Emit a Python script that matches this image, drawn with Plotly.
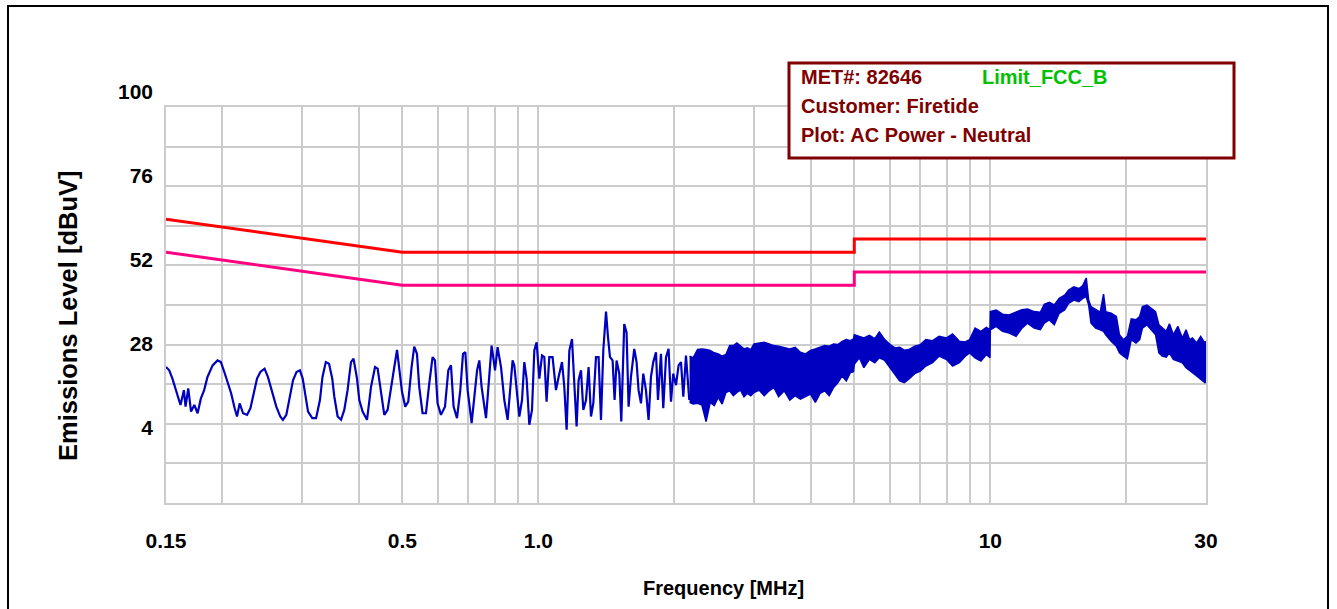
import math
import plotly.graph_objects as go

# ---------------- data ----------------
# measured emission trace, oscillating part (0.15 - 2.16 MHz)
line_freq_mhz = [
    0.1500, 0.1525, 0.1550, 0.1578, 0.1589, 0.1615, 0.1643, 0.1657, 0.1680, 0.1704,
    0.1733, 0.1762, 0.1792, 0.1822, 0.1853, 0.1902, 0.1950, 0.1984, 0.2019, 0.2055,
    0.2091, 0.2128, 0.2154, 0.2183, 0.2221, 0.2267, 0.2306, 0.2345, 0.2385, 0.2426,
    0.2478, 0.2521, 0.2565, 0.2631, 0.2685, 0.2721, 0.2769, 0.2817, 0.2865, 0.2916,
    0.2967, 0.3010, 0.3058, 0.3093, 0.3160, 0.3222, 0.3286, 0.3329, 0.3386, 0.3442,
    0.3499, 0.3536, 0.3596, 0.3659, 0.3720, 0.3783, 0.3849, 0.3900, 0.3969, 0.4016,
    0.4084, 0.4177, 0.4263, 0.4351, 0.4409, 0.4486, 0.4561, 0.4639, 0.4720, 0.4800,
    0.4867, 0.4924, 0.4992, 0.5076, 0.5154, 0.5241, 0.5313, 0.5387, 0.5450, 0.5543,
    0.5640, 0.5735, 0.5833, 0.5904, 0.5983, 0.6088, 0.6214, 0.6320, 0.6406, 0.6492,
    0.6606, 0.6718, 0.6811, 0.6892, 0.6974, 0.7117, 0.7216, 0.7317, 0.7401, 0.7488,
    0.7658, 0.7788, 0.7880, 0.8018, 0.8124, 0.8267, 0.8407, 0.8550, 0.8669, 0.8769,
    0.8846, 0.8951, 0.9074, 0.9200, 0.9308, 0.9418, 0.9549, 0.9680, 0.9795, 0.9911,
    1.0048, 1.0188, 1.0307, 1.0426, 1.0571, 1.0750, 1.0938, 1.1085, 1.1279, 1.1412,
    1.1547, 1.1708, 1.1868, 1.2008, 1.2150, 1.2274, 1.2425, 1.2572, 1.2746, 1.2915,
    1.3074, 1.3229, 1.3410, 1.3590, 1.3757, 1.3920, 1.4114, 1.4258, 1.4403, 1.4595,
    1.4744, 1.4894, 1.5100, 1.5254, 1.5487, 1.5671, 1.5834, 1.6027, 1.6299, 1.6492,
    1.6660, 1.6865, 1.7064, 1.7298, 1.7530, 1.7745, 1.7955, 1.8205, 1.8390, 1.8673,
    1.8894, 1.9157, 1.9411, 1.9653, 1.9881, 2.0157, 2.0428, 2.0679, 2.0923, 2.1211,
    2.1570,
]
line_level_dbuv = [
    21.2, 20.2, 17.7, 14.2, 12.2, 9.7, 14.2, 9.2, 14.7, 7.7,
    9.7, 7.2, 11.7, 14.2, 18.2, 21.7, 23.2, 22.7, 19.7, 16.7,
    13.2, 8.7, 6.2, 10.2, 7.2, 6.7, 8.7, 13.2, 17.7, 19.7,
    20.7, 18.2, 14.2, 9.2, 6.2, 5.2, 6.7, 12.2, 17.2, 19.7,
    20.2, 17.7, 11.7, 7.7, 5.7, 5.7, 11.2, 18.2, 22.7, 22.2,
    17.7, 12.2, 6.2, 5.2, 8.2, 14.2, 22.7, 23.7, 17.7, 11.2,
    7.7, 5.2, 15.2, 21.2, 20.7, 14.2, 6.7, 8.2, 14.2, 21.2,
    26.4, 21.2, 13.7, 9.2, 10.7, 21.2, 27.4, 25.2, 15.2, 7.2,
    7.2, 16.2, 24.2, 23.2, 10.2, 6.7, 9.2, 20.2, 21.7, 9.2,
    5.7, 14.2, 25.2, 25.7, 14.2, 4.2, 11.2, 20.2, 23.2, 15.2,
    5.7, 20.2, 27.7, 20.2, 27.2, 21.2, 11.2, 5.2, 15.2, 23.2,
    21.7, 15.2, 6.2, 11.2, 22.7, 17.7, 3.7, 8.2, 26.2, 28.7,
    17.7, 24.7, 24.2, 10.7, 24.2, 24.2, 14.2, 18.2, 22.7, 15.2,
    2.2, 26.2, 29.7, 16.2, 3.2, 17.2, 20.2, 8.2, 11.2, 21.2,
    6.2, 10.2, 24.2, 24.2, 5.2, 26.2, 38.0, 30.2, 24.2, 23.2,
    11.2, 23.2, 19.2, 4.7, 34.2, 31.7, 9.2, 18.2, 26.7, 22.7,
    14.2, 10.2, 19.2, 14.2, 5.2, 18.2, 22.7, 25.7, 11.2, 25.2,
    8.7, 24.2, 26.7, 10.7, 19.2, 15.7, 21.7, 22.7, 12.2, 24.7,
    11.2,
]

# measured emission trace, dense part (2.16 - 30 MHz): upper / lower envelope
band_freq_mhz = [
    2.16, 2.2, 2.25, 2.3, 2.35, 2.4, 2.45, 2.5, 2.55, 2.6,
    2.65, 2.7, 2.75, 2.8, 2.85, 2.9, 2.95, 3.0, 3.08, 3.16,
    3.24, 3.32, 3.4, 3.5, 3.6, 3.7, 3.8, 3.9, 4.0, 4.1,
    4.2, 4.3, 4.4, 4.5, 4.6, 4.7, 4.8, 4.9, 4.98, 5.0,
    5.13, 5.25, 5.4, 5.55, 5.68, 5.84, 6.0, 6.15, 6.3, 6.45,
    6.6, 6.8, 7.0, 7.2, 7.45, 7.7, 8.0, 8.25, 8.54, 8.8,
    9.0, 9.25, 9.53, 9.8, 9.98, 10.0, 10.3, 10.64, 11.0, 11.4,
    11.75, 12.08, 12.5, 12.9, 13.16, 13.5, 13.85, 14.2, 14.6, 14.9,
    15.3, 15.7, 16.0, 16.3, 16.5, 16.7, 17.1, 17.5, 17.8, 18.0,
    18.5, 19.0, 19.3, 19.7, 20.1, 20.5, 21.0, 21.4, 21.7, 22.2,
    22.7, 23.2, 23.6, 24.0, 24.5, 24.9, 25.4, 26.0, 26.6, 27.1,
    27.6, 28.0, 28.6, 29.2, 29.8, 30.0,
]
band_max_dbuv = [
    24.5, 24.0, 26.5, 26.7, 26.5, 26.2, 25.5, 25.2, 24.5, 25.0,
    27.7, 27.7, 28.5, 27.5, 26.7, 27.0, 26.5, 28.2, 28.5, 28.7,
    28.2, 27.7, 27.5, 27.0, 26.7, 27.2, 25.7, 25.2, 26.2, 26.7,
    27.2, 27.7, 27.5, 28.2, 28.0, 29.0, 29.5, 29.2, 29.7, 31.0,
    30.5, 30.0, 30.8, 29.8, 31.8, 29.5, 28.0, 27.0, 27.2, 26.3,
    26.5, 27.5, 28.0, 29.5, 29.2, 30.5, 30.0, 31.2, 29.0, 28.8,
    29.5, 33.0, 32.0, 33.2, 32.5, 38.0, 38.5, 37.2, 37.0, 38.0,
    38.6, 38.8, 38.0, 37.8, 40.2, 40.8, 40.0, 42.0, 43.0, 44.5,
    45.5, 45.0, 45.8, 48.2, 41.5, 39.5, 38.5, 37.8, 43.3, 38.0,
    37.5, 36.5, 31.0, 29.5, 30.5, 35.8, 35.5, 36.5, 39.5, 40.0,
    39.0, 38.0, 34.0, 33.0, 32.0, 34.3, 31.0, 33.5, 30.0, 32.5,
    29.5, 30.0, 28.5, 30.5, 28.5, 29.0,
]
band_min_dbuv = [
    10.5, 10.0, 10.2, 9.7, 4.7, 10.5, 9.5, 12.0, 10.0, 13.5,
    14.0, 12.5, 13.5, 14.2, 12.2, 13.2, 12.5, 13.5, 14.2, 12.5,
    14.0, 15.0, 12.2, 14.0, 11.2, 12.5, 11.5, 12.2, 13.0, 10.5,
    13.2, 14.0, 12.5, 15.0, 16.5, 18.5, 17.0, 19.5, 19.8, 22.0,
    24.0, 21.0, 23.5, 22.5, 24.0, 23.2, 21.0, 19.0, 17.0, 16.5,
    17.5, 19.2, 20.0, 21.5, 22.5, 24.5, 23.5, 21.5, 22.5, 24.5,
    25.5, 24.0, 23.0, 25.0, 24.0, 32.5, 33.5, 32.0, 31.5, 30.5,
    33.0, 34.5, 33.0, 32.5, 34.5, 35.5, 34.0, 37.5, 38.5, 40.5,
    41.5, 41.0, 42.0, 42.5, 40.0, 34.5, 33.0, 32.5, 32.0, 31.0,
    29.0, 27.5, 25.5, 24.5, 23.7, 29.5, 28.5, 29.5, 33.0, 34.0,
    32.5, 31.0, 25.5, 24.5, 24.2, 25.5, 23.5, 23.0, 22.5, 21.0,
    20.0, 19.5, 18.5, 17.5, 16.5, 16.5,
]

# FCC class B conducted limits
limit_freq_mhz = [0.15, 0.5, 5.0, 5.0, 30.0]
qp_limit_dbuv = [66, 56, 56, 60, 60]
avg_limit_dbuv = [56, 46, 46, 50, 50]

# axes
x_grid_mhz = [0.15, 0.2, 0.3, 0.4, 0.5, 0.6, 0.7, 0.8, 0.9,
              1, 2, 3, 4, 5, 6, 7, 8, 9, 10, 20, 30]
x_tick_text = ["0.15", "", "", "", "0.5", "", "", "", "",
               "1.0", "", "", "", "", "", "", "", "", "10", "", "30"]
y_range = [-20, 100]
y_grid_step = 12
y_label_vals = [100, 76, 52, 28, 4]

info_lines = ["MET#: 82646", "Customer: Firetide", "Plot: AC Power - Neutral"]
limit_name = "Limit_FCC_B"

assert len(line_freq_mhz) == len(line_level_dbuv)
assert len(band_freq_mhz) == len(band_max_dbuv) == len(band_min_dbuv)

# ---------------- styling ----------------
FONT = "Liberation Sans, Arial, sans-serif"
GRID = "#cccccc"
BLUE = "#0000c0"
DARKRED = "#800000"

W, H = 1337, 609
ML, MR, MT, MB = 166, 131, 60, 106
PW, PH = W - ML - MR, H - MT - MB


def px(x):
    return (x - ML) / PW


def py(y):
    return (H - MB - y) / PH


fig = go.Figure()

fig.add_trace(go.Scatter(x=limit_freq_mhz, y=qp_limit_dbuv, mode="lines",
                         line=dict(color="#ff0000", width=3), hoverinfo="skip",
                         showlegend=False))
fig.add_trace(go.Scatter(x=limit_freq_mhz, y=avg_limit_dbuv, mode="lines",
                         line=dict(color="#ff0080", width=3), hoverinfo="skip",
                         showlegend=False))
fig.add_trace(go.Scatter(x=line_freq_mhz, y=line_level_dbuv, mode="lines",
                         line=dict(color=BLUE, width=2.2), showlegend=False))
fig.add_trace(go.Scatter(x=band_freq_mhz, y=band_max_dbuv, mode="lines",
                         line=dict(color=BLUE, width=1.5), showlegend=False))
fig.add_trace(go.Scatter(x=band_freq_mhz, y=band_min_dbuv, mode="lines",
                         line=dict(color=BLUE, width=1.5), fill="tonexty",
                         fillcolor=BLUE, showlegend=False))

# label-only axis (the reference draws its y labels slightly off the grid)
fig.add_trace(go.Scatter(x=[0.5] * len(y_label_vals), y=y_label_vals,
                         xaxis="x2", yaxis="y2", mode="markers",
                         marker=dict(opacity=0), hoverinfo="skip",
                         showlegend=False))

plot_top_px = 107
main_domain_top = py(plot_top_px)
lab_lo = 52 - (H - MB - 260.06) / 3.5004
lab_hi = 52 + (260.06 - MT) / 3.5004

tick_font = dict(family=FONT, size=21, color="black", weight="bold")

fig.update_layout(
    width=W, height=H,
    margin=dict(l=ML, r=MR, t=MT, b=MB),
    paper_bgcolor="white",
    plot_bgcolor="rgba(0,0,0,0)",
    showlegend=False,
    xaxis=dict(type="log", range=[math.log10(0.15), math.log10(30)],
               domain=[0, 1], anchor="y",
               tickmode="array", tickvals=x_grid_mhz, ticktext=x_tick_text,
               showgrid=True, gridcolor=GRID, gridwidth=2,
               showline=True, linecolor=GRID, linewidth=2, mirror=True,
               ticks="", tickfont=tick_font, ticklabelstandoff=18,
               zeroline=False),
    yaxis=dict(range=y_range, domain=[0, main_domain_top], anchor="x",
               tick0=y_range[0], dtick=y_grid_step,
               showgrid=True, gridcolor=GRID, gridwidth=2,
               showline=True, linecolor=GRID, linewidth=2, mirror=True,
               showticklabels=False, ticks="", zeroline=False),
    xaxis2=dict(domain=[0, 1], anchor="y2", range=[0, 1], visible=False),
    yaxis2=dict(domain=[0, 1], anchor="x2", range=[lab_lo, lab_hi],
                tickmode="array", tickvals=y_label_vals,
                ticktext=[str(v) for v in y_label_vals],
                showgrid=False, zeroline=False, showline=False, ticks="",
                tickfont=tick_font, ticklabelstandoff=12),
)

shapes = [
    # outer frame
    dict(type="rect", xref="paper", yref="paper",
         x0=px(8), x1=px(1328), y0=py(6), y1=py(640),
         line=dict(color="black", width=2), fillcolor="rgba(0,0,0,0)",
         layer="above"),
    # info box
    dict(type="rect", xref="paper", yref="paper",
         x0=px(789), x1=px(1234), y0=py(63), y1=py(158),
         line=dict(color=DARKRED, width=3), fillcolor="white", layer="above"),
]
fig.update_layout(shapes=shapes)

info_font = dict(family=FONT, size=20, color=DARKRED, weight="bold")
ann = []
for txt, ypix in zip(info_lines, [77.5, 105.5, 135]):
    ann.append(dict(text=txt, xref="paper", yref="paper", x=px(799), y=py(ypix),
                    xanchor="left", yanchor="middle", showarrow=False,
                    font=info_font))
ann.append(dict(text=limit_name, xref="paper", yref="paper", x=px(980), y=py(77.5),
                xanchor="left", yanchor="middle", showarrow=False,
                font=dict(family=FONT, size=20, color="#00c000", weight="bold")))
ann.append(dict(text="Frequency [MHz]", xref="paper", yref="paper",
                x=px(723), y=py(588), xanchor="center", yanchor="middle",
                showarrow=False,
                font=dict(family=FONT, size=20, color="black", weight="bold")))
ann.append(dict(text="Emissions Level [dBuV]", xref="paper", yref="paper",
                x=px(68), y=py(316), xanchor="center", yanchor="middle",
                textangle=-90, showarrow=False,
                font=dict(family=FONT, size=25.5, color="black", weight="bold")))
fig.update_layout(annotations=ann)

fig.write_html("out.html",
               config={"displayModeBar": False},
               post_script="document.body.style.margin='0px';"
                           "document.body.style.overflow='hidden';")
